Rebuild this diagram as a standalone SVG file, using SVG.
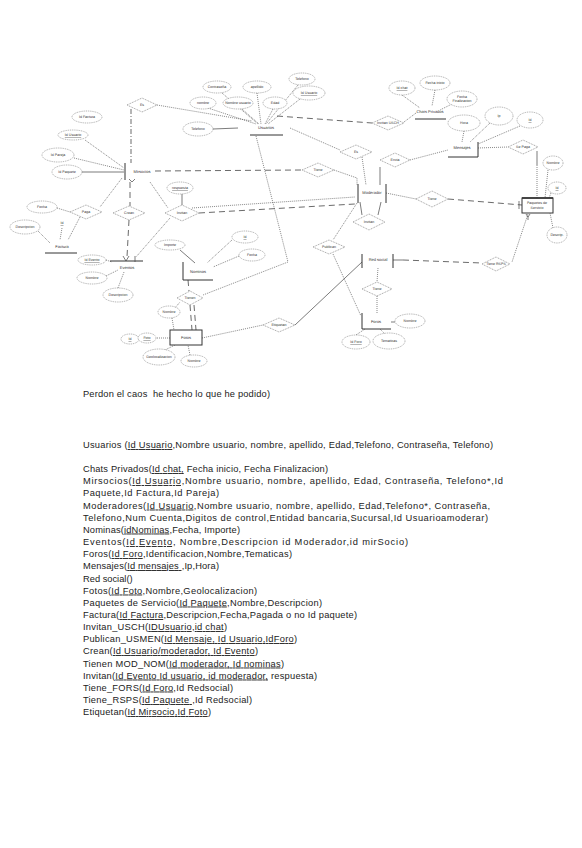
<svg xmlns="http://www.w3.org/2000/svg" width="582" height="848" viewBox="0 0 582 848">
<style>
.t{font-family:"Liberation Sans",Arial,sans-serif;font-size:9.3px;fill:#222}
.l{font-family:"Liberation Sans",Arial,sans-serif;font-size:3.6px;fill:#333;text-anchor:middle;text-rendering:geometricPrecision}
.u{text-decoration:underline}
.ell{fill:#fff;stroke:#777;stroke-width:.6;stroke-dasharray:1 .8}
.dia{fill:#fff;stroke:#666;stroke-width:.6;stroke-dasharray:1 .8}
.ent{stroke:#333;stroke-width:1;fill:none}
.box{stroke:#333;stroke-width:1;fill:#fff}
.dot{stroke:#555;stroke-width:.7;stroke-dasharray:1 1;fill:none}
.dash{stroke:#444;stroke-width:.8;stroke-dasharray:6 4;fill:none}
.dd{stroke:#444;stroke-width:.8;stroke-dasharray:5 2 1 2;fill:none}
.sol{stroke:#444;stroke-width:.7;fill:none}
</style>
<rect width="582" height="848" fill="#fff"/>
<g id="connectors">
<path class="dot" d="M157,105 L252,121"/>
<path class="dd" d="M131,109 L131,163"/>
<path class="dot" d="M85,140 L124,168 M74,158 L124,170"/>
<path class="sol" d="M82,172 L124,172"/>
<path class="dash" d="M155,171 L302,170"/>
<path class="dot" d="M334,170 L357,178 L357,185"/>
<path class="dot" d="M122,178 L100,207"/>
<path class="dash" d="M130,182 L130,206"/>
<path class="dot" d="M150,182 L168,208"/>
<path class="dot" d="M57,208 L70,212"/>
<path class="dot" d="M80,217 L68,240 M62,228 L60,240 M38,231 L50,243"/>
<path class="dash" d="M129,220 L127,257"/>
<path class="dot" d="M170,218 L136,257"/>
<path class="sol" d="M182,194 L182,205"/>
<path class="dash" d="M199,213 L355,204"/>
<path class="dot" d="M192,208 L355,197"/>
<path class="dot" d="M106,260 L112,262 M106,276 L118,270 M118,288 L124,272"/>
<path class="dot" d="M222,93 L258,124 M257,93 L261,124 M298,85 L266,124 M300,99 L268,124 M208,108 L256,124 M242,109 L259,124 M273,109 L265,124"/>
<path class="sol" d="M213,129 L238,128"/>
<path class="dash" d="M277,116 L372,123"/>
<path class="dot" d="M404,122 L416,113 M402,95 L420,108 M435,90 L432,106 M452,104 L440,110"/>
<path class="dot" d="M290,128 L340,150"/>
<path class="dot" d="M362,157 L366,185"/>
<path class="sol" d="M380,167 L380,185"/>
<path class="dot" d="M410,160 L448,150"/>
<path class="dot" d="M464,131 L462,142 M490,123 L470,142 M520,126 L478,144"/>
<path class="dot" d="M478,148 L508,147"/>
<path class="sol" d="M537,151 L537,165"/>
<path class="dot" d="M537,165 L537,198 M548,170 L545,198 M551,193 L549,198 M553,228 L550,213"/>
<path class="dot" d="M386,193 L416,199"/>
<path class="dash" d="M448,199 L522,205"/>
<path class="sol" d="M519,201 L519,209"/>
<path class="dot" d="M528,214 L512,262"/>
<path class="sol" d="M393,260 L403,260"/>
<path class="dash" d="M403,260 L482,263"/>
<path class="sol" d="M360,202 L362,215 M381,202 L378,215"/>
<path class="dot" d="M357,203 L333,240"/>
<path class="dot" d="M333,254 L361,316"/>
<path class="sol" d="M362,262 L295,325"/>
<path class="dot" d="M202,338 L263,325"/>
<path class="dot" d="M378,268 L377,282 M377,296 L377,313"/>
<path class="sol" d="M391,322 L395,322"/>
<path class="dot" d="M356,335 L365,329 M385,334 L380,329"/>
<path class="dot" d="M256,136 L288,262 L203,295"/>
<path class="dash" d="M188,280 L189,291"/>
<path class="dash" d="M190,305 L192,330 M194,305 L196,330"/>
<path class="sol" d="M180,250 L195,263"/>
<path class="dot" d="M232,240 L207,263 M239,256 L213,267"/>
<path class="dot" d="M172,318 L174,330 M175,308 L180,302"/>
<path class="dot" d="M157,338 L170,338 M165,350 L175,345 M190,355 L188,345"/>
</g>
<g id="usuarios">
<text class="l" x="266" y="129" style="font-size:4px">Usuarios</text>
<path class="ent" d="M250,135 L283,135"/>
</g>
<g id="usuarios-attrs">
<ellipse class="ell" cx="217" cy="87" rx="14" ry="6"/><text class="l" x="217" y="88">Contraseña</text>
<ellipse class="ell" cx="257" cy="87" rx="14" ry="6"/><text class="l" x="257" y="88">apellido</text>
<ellipse class="ell" cx="302" cy="79" rx="13" ry="6"/><text class="l" x="302" y="80">Telefono</text>
<ellipse class="ell" cx="309" cy="93" rx="16" ry="7"/><text class="l u" x="309" y="94">Id Usuario</text>
<ellipse class="ell" cx="203" cy="103" rx="13" ry="6"/><text class="l" x="203" y="104">nombre</text>
<ellipse class="ell" cx="238" cy="103" rx="15" ry="6"/><text class="l" x="238" y="104">Nombre usuario</text>
<ellipse class="ell" cx="275" cy="103" rx="12" ry="6"/><text class="l" x="275" y="104">Edad</text>
<ellipse class="ell" cx="198" cy="129" rx="15" ry="7"/><text class="l" x="198" y="130">Telefono</text>
</g>
<g id="d-es1"><polygon class="dia" points="127,105 142,98 157,105 142,112"/><text class="l" x="142" y="106">Es</text></g>
<g id="mirsocios">
<text class="l" x="142" y="173" style="font-size:4px">Mirsocios</text>
<path class="ent" d="M125,163 L125,180"/>
<path class="sol" d="M129,179 L132,182 L135,179"/>
</g>
<g id="mirsocios-attrs">
<ellipse class="ell" cx="87" cy="117" rx="15" ry="6"/><text class="l" x="87" y="118">Id Factura</text>
<ellipse class="ell" cx="73" cy="135" rx="15" ry="5"/><text class="l u" x="73" y="136">Id Usuario</text>
<ellipse class="ell" cx="58" cy="155" rx="16" ry="7"/><text class="l" x="58" y="156">Id Pareja</text>
<ellipse class="ell" cx="67" cy="172" rx="15" ry="7"/><text class="l" x="67" y="173">Id Paquete</text>
</g>
<g id="d-paga"><polygon class="dia" points="70,212 86,205 102,212 86,219"/><text class="l" x="86" y="213">Paga</text></g>
<g id="paga-attr"><ellipse class="ell" cx="42" cy="207" rx="15" ry="6"/><text class="l" x="42" y="208">Fecha</text></g>
<g id="factura">
<text class="l" x="62" y="248" style="font-size:4px">Factura</text>
<path class="ent" d="M45,253 L77,253"/>
<text class="l u" x="62" y="224">Id</text>
<ellipse class="ell" cx="25" cy="227" rx="15" ry="7"/><text class="l" x="25" y="228">Descripcion</text>
</g>
<g id="d-crean"><polygon class="dia" points="113,213 129,206 145,213 129,220"/><text class="l" x="129" y="214">Crean</text></g>
<g id="d-invitan"><polygon class="dia" points="165,213 182,205 199,213 182,221"/><text class="l" x="182" y="214">Invitan</text>
<ellipse class="ell" cx="180" cy="188" rx="13" ry="6"/><text class="l u" x="180" y="189">respuesta</text></g>
<g id="eventos">
<text class="l" x="127" y="269" style="font-size:4px">Eventos</text>
<path class="ent" d="M110,261 L143,261"/>
<path class="sol" d="M123,256 L126,261 L129,256 M135,256 L135,262"/>
<ellipse class="ell" cx="92" cy="260" rx="14" ry="5"/><text class="l u" x="92" y="261">Id Evento</text>
<ellipse class="ell" cx="92" cy="278" rx="15" ry="6"/><text class="l" x="92" y="279">Nombre</text>
<ellipse class="ell" cx="118" cy="295" rx="15" ry="7"/><text class="l" x="118" y="296">Descripcion</text>
</g>
<g id="nominas">
<text class="l" x="198" y="273" style="font-size:4px">Nominas</text>
<path class="ent" d="M183,262 L183,280 L213,280"/>
<ellipse class="ell" cx="170" cy="245" rx="15" ry="5"/><text class="l" x="170" y="246">Importe</text>
<ellipse class="ell" cx="245" cy="237" rx="13" ry="6"/><text class="l u" x="245" y="238">Id</text>
<ellipse class="ell" cx="252" cy="255" rx="13" ry="6"/><text class="l" x="252" y="256">Fecha</text>
</g>
<g id="d-tienen"><polygon class="dia" points="177,298 190,291 203,298 190,305"/><text class="l" x="190" y="299">Tienen</text></g>
<g id="fotos">
<rect class="box" x="170" y="330" width="32" height="15"/>
<text class="l" x="186" y="339" style="font-size:4px">Fotos</text>
<ellipse class="ell" cx="169" cy="312" rx="11" ry="6"/><text class="l" x="169" y="313">Nombre</text>
<ellipse class="ell" cx="130" cy="339" rx="9" ry="5"/><text class="l u" x="130" y="340">Id</text>
<ellipse class="ell" cx="147" cy="338" rx="9" ry="5"/><text class="l u" x="147" y="339">Foto</text>
<ellipse class="ell" cx="159" cy="357" rx="16" ry="8"/><text class="l" x="159" y="358">Geolocalizacion</text>
<ellipse class="ell" cx="194" cy="361" rx="13" ry="6"/><text class="l" x="194" y="362">Nombre</text>
</g>
<g id="d-etiquetan"><polygon class="dia" points="263,325 279,318 295,325 279,332"/><text class="l" x="279" y="326">Etiquetan</text></g>
<g id="d-es2"><polygon class="dia" points="340,152 356,145 372,152 356,159"/><text class="l" x="356" y="153">Es</text></g>
<g id="d-tiene1"><polygon class="dia" points="302,170 318,163 334,170 318,177"/><text class="l" x="318" y="171">Tiene</text></g>
<g id="d-invitan-usch"><polygon class="dia" points="372,123 388,116 404,123 388,130"/><text class="l" x="388" y="124">Invitan USCH</text></g>
<g id="chats">
<text class="l" x="430" y="113" style="font-size:4px">Chats Privados</text>
<path class="ent" d="M415,119 L446,119"/>
<ellipse class="ell" cx="435" cy="83" rx="15" ry="7"/><text class="l" x="435" y="84">Fecha inicio</text>
<ellipse class="ell" cx="402" cy="88" rx="13" ry="7"/><text class="l u" x="402" y="89">Id chat</text>
<ellipse class="ell" cx="462" cy="99" rx="15" ry="8"/><text class="l" x="462" y="98">Fecha</text><text class="l" x="462" y="102">Finalizacion</text>
</g>
<g id="d-envia"><polygon class="dia" points="380,160 395,153 410,160 395,167"/><text class="l" x="395" y="161">Envia</text></g>
<g id="moderador">
<text class="l" x="372" y="194" style="font-size:4px">Moderador</text>
<path class="ent" d="M358,184 L358,203 M386,184 L386,203"/>
</g>
<g id="mensajes">
<text class="l" x="462" y="149" style="font-size:4px">Mensajes</text>
<path class="ent" d="M448,157 L478,157 L478,142"/>
<ellipse class="ell" cx="464" cy="123" rx="16" ry="8"/><text class="l" x="464" y="124">Hora</text>
<ellipse class="ell" cx="499" cy="116" rx="14" ry="9"/><text class="l" x="499" y="117">Ip</text>
<ellipse class="ell" cx="530" cy="120" rx="13" ry="8"/><text class="l u" x="530" y="121">Id</text>
</g>
<g id="d-sepaga"><polygon class="dia" points="508,147 523,140 538,147 523,154"/><text class="l" x="523" y="148">Se Paga</text></g>
<g id="d-tiene2"><polygon class="dia" points="416,199 432,191 448,199 432,207"/><text class="l" x="432" y="200">Tiene</text></g>
<g id="paquetes">
<rect class="box" x="522" y="198" width="31" height="15"/>
<path class="ent" d="M522,198 L553,198" style="stroke-width:1.6"/>
<text class="l" x="537" y="204">Paquetes de</text><text class="l" x="537" y="209">Servicio</text>
<path class="sol" d="M526,214 L528,217 L530,214 M528,217 L528,220"/>
<ellipse class="ell" cx="553" cy="163" rx="10" ry="7"/><text class="l" x="553" y="164">Nombre</text>
<ellipse class="ell" cx="557" cy="188" rx="9" ry="6"/><text class="l u" x="557" y="189">Id</text>
<ellipse class="ell" cx="557" cy="235" rx="10" ry="8"/><text class="l" x="557" y="236">Descrip.</text>
</g>
<g id="d-invitan2"><polygon class="dia" points="353,222 369,214 385,222 369,230"/><text class="l" x="369" y="223">Invitan</text></g>
<g id="d-publican"><polygon class="dia" points="313,247 329,240 345,247 329,254"/><text class="l" x="329" y="248">Publican</text></g>
<g id="redsocial">
<text class="l" x="378" y="261" style="font-size:4px">Red social</text>
<path class="ent" d="M362,254 L362,268 M393,254 L393,268"/>
</g>
<g id="d-tiene-rsps"><polygon class="dia" points="482,264 496,257 510,264 496,271"/><text class="l" x="496" y="265">Tiene RSPS</text></g>
<g id="d-tiene-fors"><polygon class="dia" points="362,289 377,282 392,289 377,296"/><text class="l" x="377" y="290">Tiene</text></g>
<g id="foros">
<text class="l" x="376" y="323" style="font-size:4px">Foros</text>
<path class="ent" d="M362,313 L362,329 L391,329"/>
<ellipse class="ell" cx="410" cy="321" rx="15" ry="7"/><text class="l" x="410" y="322">Nombre</text>
<ellipse class="ell" cx="356" cy="342" rx="14" ry="7"/><text class="l u" x="356" y="343">Id Foro</text>
<ellipse class="ell" cx="389" cy="341" rx="16" ry="8"/><text class="l" x="389" y="342">Tematicas</text>
</g>
<g id="texto">
<text class="t" x="83" y="397" style="white-space:pre" textLength="187">Perdon el caos  he hecho lo que he podido)</text>
<text class="t" x="83" y="448" textLength="410">Usuarios (<tspan class="u">Id Usuario</tspan>,Nombre usuario, nombre, apellido, Edad,Telefono, Contraseña, Telefono)</text>
<text class="t" x="83" y="472" textLength="245">Chats Privados(<tspan class="u">Id chat,</tspan> Fecha inicio, Fecha Finalizacion)</text>
<text class="t" x="83" y="484" textLength="420">Mirsocios(<tspan class="u">Id Usuario</tspan>,Nombre usuario, nombre, apellido, Edad, Contraseña, Telefono*,Id</text>
<text class="t" x="83" y="496" textLength="136">Paquete,Id Factura,Id Pareja)</text>
<text class="t" x="83" y="508.5" textLength="407">Moderadores(<tspan class="u">Id Usuario</tspan>,Nombre usuario, nombre, apellido, Edad,Telefono*, Contraseña,</text>
<text class="t" x="83" y="520.5" textLength="405">Telefono,Num Cuenta,Digitos de control,Entidad bancaria,Sucursal,Id Usuarioamoderar)</text>
<text class="t" x="83" y="532.5" textLength="157">Nominas(<tspan class="u">idNominas</tspan>,Fecha, Importe)</text>
<text class="t" x="83" y="545" textLength="325">Eventos(<tspan class="u">Id Evento</tspan>, Nombre,Descripcion id Moderador,id mirSocio)</text>
<text class="t" x="83" y="557" textLength="209">Foros(<tspan class="u">Id Foro</tspan>,Identificacion,Nombre,Tematicas)</text>
<text class="t" x="83" y="569" textLength="136">Mensajes(<tspan class="u">Id mensajes </tspan>,Ip,Hora)</text>
<text class="t" x="83" y="581.5">Red social()</text>
<text class="t" x="83" y="593.5" textLength="174">Fotos(<tspan class="u">Id Foto</tspan>,Nombre,Geolocalizacion)</text>
<text class="t" x="83" y="605.5" textLength="239">Paquetes de Servicio(<tspan class="u">Id Paquete</tspan>,Nombre,Descripcion)</text>
<text class="t" x="83" y="618" textLength="274">Factura(<tspan class="u">Id Factura</tspan>,Descripcion,Fecha,Pagada o no Id paquete)</text>
<text class="t" x="83" y="630" textLength="144">Invitan_USCH(<tspan class="u">IDUsuario</tspan>,<tspan class="u">id chat</tspan>)</text>
<text class="t" x="83" y="642" textLength="214">Publican_USMEN(<tspan class="u">Id Mensaje, Id Usuario,IdForo</tspan>)</text>
<text class="t" x="83" y="654" textLength="175">Crean(<tspan class="u">Id Usuario/moderador, Id Evento</tspan>)</text>
<text class="t" x="83" y="666.5" textLength="201">Tienen MOD_NOM(<tspan class="u">Id moderador, Id nominas</tspan>)</text>
<text class="t" x="83" y="678.5" textLength="234">Invitan(<tspan class="u">Id Evento Id usuario, id moderador,</tspan> respuesta)</text>
<text class="t" x="83" y="690.5" textLength="150">Tiene_FORS(<tspan class="u">Id Foro</tspan>,Id Redsocial)</text>
<text class="t" x="83" y="703" textLength="169">Tiene_RSPS(<tspan class="u">Id Paquete </tspan>,Id Redsocial)</text>
<text class="t" x="83" y="715" textLength="128">Etiquetan(<tspan class="u">Id Mirsocio,Id Foto</tspan>)</text>
</g>
</svg>
